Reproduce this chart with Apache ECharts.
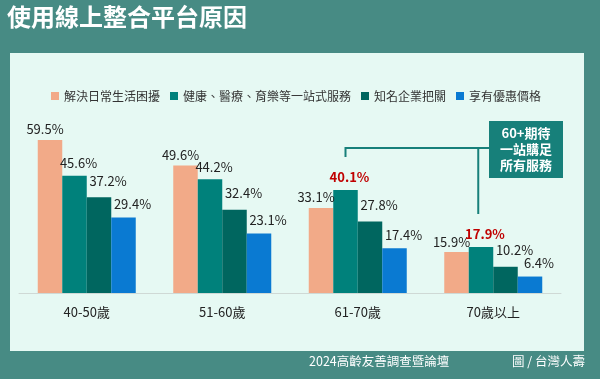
<!DOCTYPE html>
<html><head><meta charset="utf-8">
<script src="https://cdn.jsdelivr.net/npm/echarts@6/dist/echarts.min.js"></script>
<style>html,body{margin:0;padding:0;background:#478b84;}#c{width:600px;height:379px;}</style>
</head><body><div id="c"></div>
<script>
const categories = ['40-50歲', '51-60歲', '61-70歲', '70歲以上'];
const seriesNames = ['解決日常生活困擾', '健康、醫療、育樂等一站式服務', '知名企業把關', '享有優惠價格'];
const solveDaily = [59.5, 49.6, 33.1, 15.9];
const oneStop = [45.6, 44.2, 40.1, 17.9];
const brandTrust = [37.2, 32.4, 27.8, 10.2];
const discount = [29.4, 23.1, 17.4, 6.4];
const highlightOneStop = [2, 3];
const titleText = '使用線上整合平台原因';
const calloutText = '60+期待\n一站購足\n所有服務';
const sourceText = '2024高齡友善調查暨論壇';
const creditText = '圖 / 台灣人壽';

const FONT = '"Noto Sans CJK TC", "Noto Sans", sans-serif';
const colors = ['#f2aa88', '#00817b', '#00665f', '#0a7ad2'];
const allValues = [solveDaily, oneStop, brandTrust, discount];
const labelCfg = [
  {dx: -5, dy: 0},
  {dx: 4, dy: -2},
  {dx: 9, dy: -6},
  {dx: 9, dy: -3}
];

const chart = echarts.init(document.getElementById('c'));
const series = allValues.map((vals, si) => ({
  name: seriesNames[si],
  type: 'bar',
  barWidth: 24.5,
  barGap: '0%',
  itemStyle: {color: colors[si]},
  data: vals.map((v, i) => {
    if (si === 1 && highlightOneStop.includes(i)) {
      return {value: v, label: {color: '#c00000', fontWeight: 'bold'}};
    }
    return v;
  }),
  label: {
    show: true, position: 'top', distance: 4,
    formatter: p => p.value.toFixed(1) + '%',
    fontFamily: FONT, fontSize: 13, color: '#222'
  },
  labelLayout: {dx: labelCfg[si].dx, dy: labelCfg[si].dy},
  emphasis: {disabled: true}
}));

const FOOT = 355;
chart.setOption({
  backgroundColor: '#478b84',
  animation: false,
  textStyle: {fontFamily: FONT},
  legend: {
    left: 46, top: 85, itemWidth: 8, itemHeight: 8, itemGap: 10,
    icon: 'rect',
    textStyle: {fontFamily: FONT, fontSize: 12, color: '#333'},
    data: seriesNames
  },
  grid: {left: 19, right: 39, top: 113, bottom: 86, containLabel: false},
  xAxis: {
    type: 'category', data: categories,
    axisLine: {lineStyle: {color: '#cfd9d5'}},
    axisTick: {show: false},
    axisLabel: {fontFamily: FONT, fontSize: 13, color: '#222', margin: 13}
  },
  yAxis: {type: 'value', min: 0, max: 70, show: false, splitLine: {show: false}},
  series: series
});

// callout bracket anchored to the highlighted bars
const x1 = chart.convertToPixel({xAxisIndex: 0}, categories[2]) - 12.25;
const x2 = chart.convertToPixel({xAxisIndex: 0}, categories[3]) - 15;
const yTop = 148;
const boxX = 489, boxY = 121, boxW = 74, boxH = 57;
chart.setOption({
  graphic: [
    {type: 'rect', z: -10, shape: {x: 10, y: 53, width: 574, height: 298}, style: {fill: '#e6f9f3'}},
    {type: 'text', left: 7, top: 5, style: {text: titleText, fill: '#fff', font: 'bold 24px ' + FONT}},
    {type: 'text', left: 309, top: FOOT, style: {text: sourceText, fill: '#fff', font: '12.5px ' + FONT}},
    {type: 'text', left: 512, top: FOOT, style: {text: creditText, fill: '#fff', font: '12.5px ' + FONT}},
    {type: 'polyline', shape: {points: [[x1, 157], [x1, yTop], [boxX, yTop]]}, style: {stroke: '#17807a', lineWidth: 2, fill: null}},
    {type: 'line', shape: {x1: x2, y1: yTop, x2: x2, y2: 214}, style: {stroke: '#17807a', lineWidth: 2}},
    {type: 'rect', shape: {x: boxX, y: boxY, width: boxW, height: boxH}, style: {fill: '#17807a'}},
    {type: 'text', x: boxX + boxW / 2, y: boxY + boxH / 2, style: {text: calloutText, fill: '#fff', font: 'bold 13px ' + FONT, align: 'center', verticalAlign: 'middle', lineHeight: 16}}
  ]
});
</script></body></html>
